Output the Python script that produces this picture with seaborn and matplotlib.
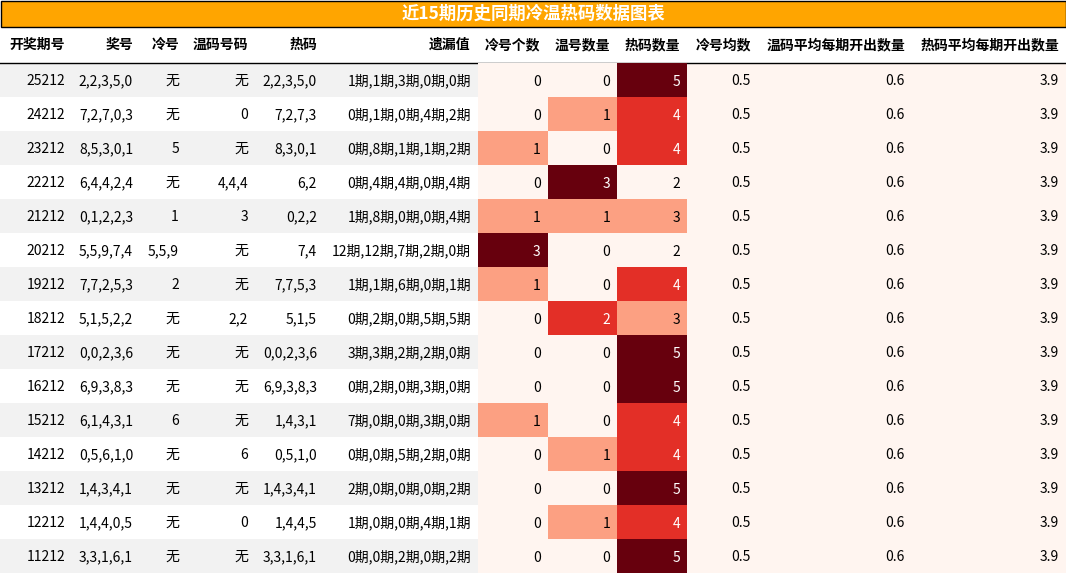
import numpy as np
import matplotlib
matplotlib.use("Agg")
import matplotlib.pyplot as plt
import seaborn as sns

plt.rcParams['font.family'] = ['Noto Sans CJK SC', 'DejaVu Sans']

title = "近15期历史同期冷温热码数据图表"
headers = ["开奖期号", "奖号", "冷号", "温码号码", "热码", "遗漏值", "冷号个数", "温号数量",
           "热码数量", "冷号均数", "温码平均每期开出数量", "热码平均每期开出数量"]
periods = ["25212", "24212", "23212", "22212", "21212", "20212", "19212", "18212",
           "17212", "16212", "15212", "14212", "13212", "12212", "11212"]
draws = ["2,2,3,5,0", "7,2,7,0,3", "8,5,3,0,1", "6,4,4,2,4", "0,1,2,2,3", "5,5,9,7,4",
         "7,7,2,5,3", "5,1,5,2,2", "0,0,2,3,6", "6,9,3,8,3", "6,1,4,3,1", "0,5,6,1,0",
         "1,4,3,4,1", "1,4,4,0,5", "3,3,1,6,1"]
cold = ["无", "无", "5", "无", "1", "5,5,9", "2", "无", "无", "无", "6", "无", "无", "无", "无"]
warm = ["无", "0", "无", "4,4,4", "3", "无", "无", "2,2", "无", "无", "无", "6", "无", "0", "无"]
hot = ["2,2,3,5,0", "7,2,7,3", "8,3,0,1", "6,2", "0,2,2", "7,4", "7,7,5,3", "5,1,5",
       "0,0,2,3,6", "6,9,3,8,3", "1,4,3,1", "0,5,1,0", "1,4,3,4,1", "1,4,4,5", "3,3,1,6,1"]
missing = ["1期,1期,3期,0期,0期", "0期,1期,0期,4期,2期", "0期,8期,1期,1期,2期", "0期,4期,4期,0期,4期",
           "1期,8期,0期,0期,4期", "12期,12期,7期,2期,0期", "1期,1期,6期,0期,1期", "0期,2期,0期,5期,5期",
           "3期,3期,2期,2期,0期", "0期,2期,0期,3期,0期", "7期,0期,0期,3期,0期", "0期,0期,5期,2期,0期",
           "2期,0期,0期,0期,2期", "1期,0期,0期,4期,1期", "0期,0期,2期,0期,2期"]
cold_cnt = [0, 0, 1, 0, 1, 3, 1, 0, 0, 0, 1, 0, 0, 0, 0]
warm_cnt = [0, 1, 0, 3, 1, 0, 0, 2, 0, 0, 0, 1, 0, 1, 0]
hot_cnt = [5, 4, 4, 2, 3, 2, 4, 3, 5, 5, 4, 4, 5, 4, 5]
cold_avg = [0.5] * 15
warm_avg = [0.6] * 15
hot_avg = [3.9] * 15

W, H = 1066, 574
edges = [0, 72, 140, 186, 255, 324, 478, 547, 617, 687, 758, 912, 1066]
top, hdr, rh = 27, 63, 34

fig = plt.figure(figsize=(W / 100, H / 100), dpi=100)
ax = fig.add_axes([0, 0, 1, 1])
ax.set_xlim(0, W)
ax.set_ylim(H, 0)
ax.axis("off")

# title bar
ax.add_patch(plt.Rectangle((0.5, 0.5), W - 1, top - 1, facecolor="#FFA500", edgecolor="black", lw=1))
ax.text(W / 2, top / 2, title, ha="center", va="center", color="white", fontsize=12.5, fontweight="bold")

# row backgrounds
for i in range(len(periods)):
    c = "#f2f2f2" if i % 2 == 0 else "white"
    ax.add_patch(plt.Rectangle((0, hdr + i * rh), W, rh, facecolor=c, lw=0))
ax.add_patch(plt.Rectangle((edges[9], hdr), W - edges[9], rh * 15, facecolor=plt.cm.Reds(0.0), lw=0))
ax.plot([0, W], [hdr - 0.5, hdr - 0.5], color="black", lw=1)

for j, h in enumerate(headers):
    ax.text(edges[j + 1] - 7, (top + hdr) / 2, h, ha="right", va="center", fontsize=10, fontweight="bold")

# heatmap columns
counts = np.array([cold_cnt, warm_cnt, hot_cnt], dtype=float).T
norm = (counts - counts.min(axis=0)) / (counts.max(axis=0) - counts.min(axis=0))
hax = fig.add_axes([edges[6] / W, 1 - (hdr + 15 * rh) / H, (edges[9] - edges[6]) / W, 15 * rh / H])
sns.heatmap(norm, ax=hax, cmap="Reds", vmin=0, vmax=1, cbar=False,
            xticklabels=False, yticklabels=False)
hax.axis("off")

cols = [periods, draws, cold, warm, hot, missing,
        [str(v) for v in cold_cnt], [str(v) for v in warm_cnt], [str(v) for v in hot_cnt],
        [str(v) for v in cold_avg], [str(v) for v in warm_avg], [str(v) for v in hot_avg]]
for j, col in enumerate(cols):
    for i, v in enumerate(col):
        color = "black"
        if 6 <= j <= 8 and norm[i, j - 6] > 0.5:
            color = "white"
        ax.text(edges[j + 1] - 7, hdr + i * rh + rh / 2 + 1, v, ha="right", va="center",
                fontsize=10, color=color, zorder=5)
fig.texts  # keep axes order simple
for i in range(15):
    for j in range(3):
        pass

# redraw heatmap text on top
ax.set_zorder(0)
hax.set_zorder(1)
for i in range(15):
    for j in range(3):
        hax.text(j + 1 - 7 / 70, i + 0.55, str(int(counts[i, j])), ha="right", va="center",
                 fontsize=10, color="white" if norm[i, j] > 0.5 else "black")
for t in ax.texts[:]:
    pass

fig.savefig("out.png", dpi=100)
